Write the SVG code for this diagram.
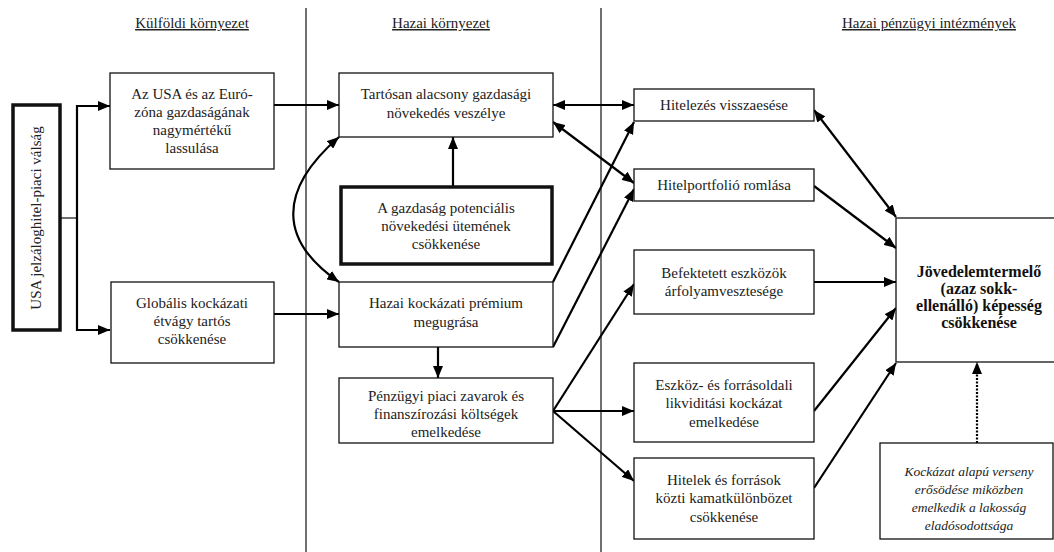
<svg xmlns="http://www.w3.org/2000/svg" width="1054" height="552" viewBox="0 0 1054 552" font-family="'Liberation Serif', 'Times New Roman', serif">
<style>
.lbl{font-family:'Liberation Serif','Times New Roman',serif;font-size:15px;fill:#222;text-anchor:middle}
.hdr{font-family:'Liberation Serif','Times New Roman',serif;font-size:15px;fill:#222;text-anchor:middle;text-decoration:underline}
.bld{font-family:'Liberation Serif','Times New Roman',serif;font-size:16px;font-weight:bold;fill:#111;text-anchor:middle}
.itl{font-family:'Liberation Serif','Times New Roman',serif;font-size:13.5px;font-style:italic;fill:#222;text-anchor:middle}
.box{fill:#fff;stroke:#111;stroke-width:1.3}
.thick{fill:#fff;stroke:#111;stroke-width:3.5}
.conn{fill:none;stroke:#000;stroke-width:2.2}
.one{marker-end:url(#ah)}
.two{marker-start:url(#ah);marker-end:url(#ah)}
.sep{stroke:#111;stroke-width:1.2}
</style>
<defs>
<marker id="ah" markerUnits="userSpaceOnUse" markerWidth="12" markerHeight="10" viewBox="0 0 12 10" refX="12" refY="5" orient="auto-start-reverse">
<path d="M0,0 L12,5 L0,10 z" fill="#000"/>
</marker>
</defs>
<g id="separators">
<line class="sep" x1="306" y1="8" x2="306" y2="552"/>
<line class="sep" x1="601" y1="8" x2="601" y2="552"/>
</g>
<g id="headers">
<text class="hdr" x="192" y="28">Külföldi környezet</text>
<text class="hdr" x="441" y="28">Hazai környezet</text>
<text class="hdr" x="929" y="28">Hazai pénzügyi intézmények</text>
</g>
<g id="connectors">
<line x1="61" y1="218" x2="77" y2="218" stroke="#111" stroke-width="1.2"/>
<path class="conn one" d="M77,218 V106 H110"/>
<path class="conn one" d="M77,218 V330 H110"/>
<path class="conn one" d="M274,105 H339"/>
<path class="conn one" d="M274,314 H339"/>
<path class="conn two" d="M339,137 C278,190 278,240 339,282"/>
<path class="conn one" d="M453,186 V137"/>
<path class="conn one" d="M438,347 V378"/>
<path class="conn two" d="M553,105 H634"/>
<path class="conn two" d="M553,122 L634,183"/>
<path class="conn one" d="M553,282 L634,122"/>
<path class="conn one" d="M553,347 L634,189"/>
<path class="conn one" d="M553,411 L634,284"/>
<path class="conn one" d="M553,411 H634"/>
<path class="conn one" d="M553,411 L634,481"/>
<path class="conn two" d="M814,110 L896,217"/>
<path class="conn one" d="M814,186 L896,248"/>
<path class="conn one" d="M814,282 H896"/>
<path class="conn one" d="M814,411 L896,308"/>
<path class="conn one" d="M814,488 L896,363"/>
<path class="conn one" d="M977,443 V362" stroke-dasharray="2,1.5"/>
</g>
<g id="n-usa">
<rect class="thick" x="13" y="105" width="47" height="225"/>
<text class="lbl" transform="translate(41,218) rotate(-90)">USA jelzáloghitel-piaci válság</text>
</g>
<g id="n-usa-euro">
<rect class="box" x="110" y="73" width="164" height="96"/>
<text class="lbl" x="192" y="99">Az USA és az Euró-</text>
<text class="lbl" x="192" y="117">zóna gazdaságának</text>
<text class="lbl" x="192" y="135">nagymértékű</text>
<text class="lbl" x="192" y="153">lassulása</text>
</g>
<g id="n-globalis">
<rect class="box" x="111" y="282" width="163" height="81"/>
<text class="lbl" x="192" y="308">Globális kockázati</text>
<text class="lbl" x="192" y="326">étvágy tartós</text>
<text class="lbl" x="192" y="344">csökkenése</text>
</g>
<g id="n-tartosan">
<rect class="box" x="339" y="73" width="214" height="64"/>
<text class="lbl" x="446" y="99">Tartósan alacsony gazdasági</text>
<text class="lbl" x="446" y="118">növekedés veszélye</text>
</g>
<g id="n-potencialis">
<rect class="thick" x="341" y="187" width="211" height="77"/>
<text class="lbl" x="446" y="213">A gazdaság potenciális</text>
<text class="lbl" x="446" y="231">növekedési ütemének</text>
<text class="lbl" x="446" y="249">csökkenése</text>
</g>
<g id="n-premium">
<rect class="box" x="339" y="282" width="214" height="65"/>
<text class="lbl" x="446" y="308">Hazai kockázati prémium</text>
<text class="lbl" x="446" y="327">megugrása</text>
</g>
<g id="n-penzugyi">
<rect class="box" x="339" y="378" width="214" height="65"/>
<text class="lbl" x="446" y="401">Pénzügyi piaci zavarok és</text>
<text class="lbl" x="446" y="419">finanszírozási költségek</text>
<text class="lbl" x="446" y="437">emelkedése</text>
</g>
<g id="n-hitelezes">
<rect class="box" x="634" y="89" width="180" height="32"/>
<text class="lbl" x="724" y="110">Hitelezés visszaesése</text>
</g>
<g id="n-portfolio">
<rect class="box" x="634" y="169" width="180" height="32"/>
<text class="lbl" x="724" y="190">Hitelportfolió romlása</text>
</g>
<g id="n-befektetett">
<rect class="box" x="634" y="250" width="180" height="64"/>
<text class="lbl" x="724" y="278">Befektetett eszközök</text>
<text class="lbl" x="724" y="296">árfolyamvesztesége</text>
</g>
<g id="n-likviditas">
<rect class="box" x="634" y="363" width="180" height="79"/>
<text class="lbl" x="724" y="390">Eszköz- és forrásoldali</text>
<text class="lbl" x="724" y="408">likviditási kockázat</text>
<text class="lbl" x="724" y="427">emelkedése</text>
</g>
<g id="n-kamat">
<rect class="box" x="634" y="458" width="180" height="81"/>
<text class="lbl" x="724" y="485">Hitelek és források</text>
<text class="lbl" x="724" y="503">közti kamatkülönbözet</text>
<text class="lbl" x="724" y="522">csökkenése</text>
</g>
<g id="n-jovedelem">
<rect class="box" x="896" y="218" width="170" height="144"/>
<text class="bld" x="979" y="277">Jövedelemtermelő</text>
<text class="bld" x="979" y="294">(azaz sokk-</text>
<text class="bld" x="979" y="311">ellenálló) képesség</text>
<text class="bld" x="979" y="328">csökkenése</text>
</g>
<g id="n-verseny">
<rect class="box" x="880" y="443" width="173" height="96"/>
<text class="itl" x="969" y="476">Kockázat alapú verseny</text>
<text class="itl" x="969" y="494">erősödése miközben</text>
<text class="itl" x="969" y="512">emelkedik a lakosság</text>
<text class="itl" x="969" y="530">eladósodottsága</text>
</g>
</svg>
